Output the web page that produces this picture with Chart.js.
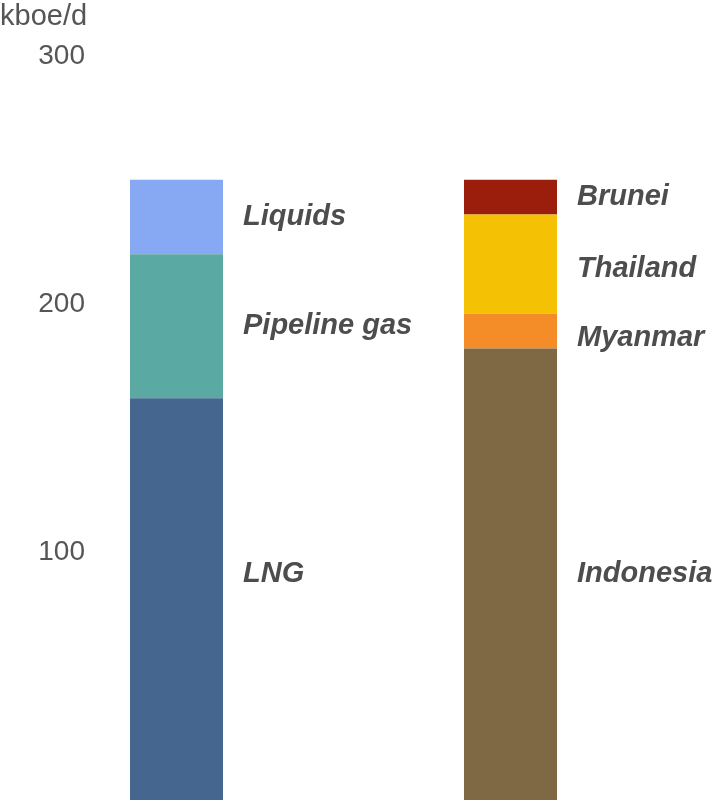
<!DOCTYPE html>
<html>
<head>
<meta charset="utf-8">
<script src="https://cdn.jsdelivr.net/npm/chart.js@4.4.1/dist/chart.umd.min.js"></script>
<style>
  html, body { margin: 0; padding: 0; background: #fff; }
  #wrap { width: 719px; height: 802px; }
</style>
</head>
<body>
<div id="wrap"><canvas id="myChart"></canvas></div>
<script>
// two stacked columns: supply by product and by source country
const productNames = ['LNG', 'Pipeline gas', 'Liquids'];
const productValues = [162, 58, 30];
const productColors = ['#44668f', '#5aa9a3', '#87a9f4'];

const countryNames = ['Indonesia', 'Myanmar', 'Thailand', 'Brunei'];
const countryValues = [182, 14, 40, 14];
const countryColors = ['#7f6945', '#f48d27', '#f5c105', '#9b1d0b'];

const yTickLabels = [100, 200, 300];
const unitLabel = 'kboe/d';

// empty middle slot keeps the two columns apart
const columns = ['Product', '', 'Country'];

const datasets = [];
productNames.forEach((name, i) => {
  datasets.push({
    label: name,
    data: [productValues[i], null, null],
    backgroundColor: productColors[i]
  });
});
countryNames.forEach((name, i) => {
  datasets.push({
    label: name,
    data: [null, null, countryValues[i]],
    backgroundColor: countryColors[i]
  });
});

// segment names written to the right of each column
const segmentLabels = {
  id: 'segmentLabels',
  afterDatasetsDraw(chart, args, opts) {
    const ctx = chart.ctx;
    const mids = {};
    chart.data.datasets.forEach((ds, di) => {
      const meta = chart.getDatasetMeta(di);
      const idx = ds.data.findIndex(v => v !== null);
      const bar = meta.data[idx];
      if (!bar) return;
      const p = bar.getProps(['x', 'y', 'base', 'width'], true);
      mids[ds.label] = { x: p.x + p.width / 2 + opts.gap, y: (p.y + p.base) / 2 };
    });
    ctx.save();
    ctx.font = opts.font;
    ctx.fillStyle = opts.color;
    ctx.textAlign = 'left';
    ctx.textBaseline = 'middle';
    Object.keys(mids).forEach(name => {
      const m = mids[name];
      const alignTo = opts.alignWith[name];
      const y = alignTo && mids[alignTo] ? mids[alignTo].y : m.y;
      ctx.fillText(name, m.x, y + (opts.shift[name] || 0));
    });
    ctx.restore();
  }
};

const ctx = document.getElementById('myChart').getContext('2d');
new Chart(ctx, {
  type: 'bar',
  data: { labels: columns, datasets },
  plugins: [segmentLabels],
  options: {
    responsive: true,
    maintainAspectRatio: false,
    animation: false,
    layout: { padding: { left: 0, right: 125, top: 0, bottom: 2 } },
    datasets: {
      bar: { categoryPercentage: 1, barPercentage: 0.557, borderWidth: 0 }
    },
    scales: {
      x: {
        stacked: true,
        display: false
      },
      y: {
        stacked: true,
        min: 0,
        max: 300,
        border: { display: false },
        grid: { display: false, drawTicks: false },
        afterFit(scale) {
          scale.width = 93;
          scale.paddingTop = 0;
          scale.paddingBottom = 0;
        },
        ticks: {
          stepSize: 100,
          padding: 8,
          color: '#555555',
          font: { family: 'Liberation Sans, Arial, sans-serif', size: 28 },
          callback: v => yTickLabels.includes(v) ? String(v) : ''
        }
      }
    },
    plugins: {
      legend: { display: false },
      tooltip: { enabled: false },
      title: {
        display: true,
        text: unitLabel,
        align: 'start',
        color: '#555555',
        font: { family: 'Liberation Sans, Arial, sans-serif', size: 29, weight: 'normal' },
        padding: { top: 0, bottom: 21 }
      },
      segmentLabels: {
        gap: 20,
        color: '#4d4d4d',
        font: 'italic bold 29px "Liberation Sans", Arial, sans-serif',
        alignWith: { 'LNG': 'Indonesia' },
        shift: { 'Thailand': 5, 'Myanmar': 7 }
      }
    }
  }
});
</script>
</body>
</html>
